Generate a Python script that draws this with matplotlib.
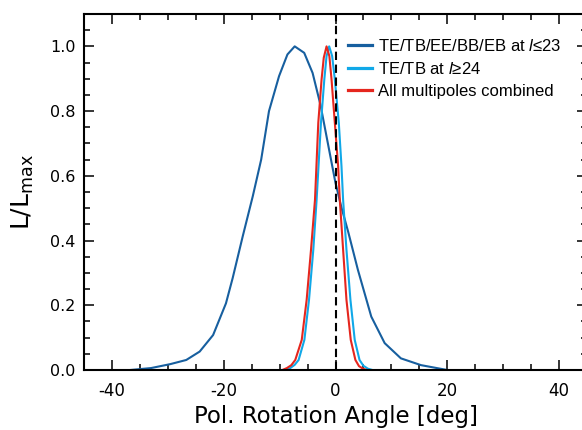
import matplotlib
matplotlib.use("Agg")
import matplotlib.pyplot as plt
from matplotlib.ticker import MultipleLocator, FormatStrFormatter

# low multipoles (TE/TB/EE/BB/EB, l<=23)
low_x = [-36.7, -33.0, -29.6, -26.7, -24.3, -21.9, -19.6, -18.4, -16.6, -14.8,
         -13.3, -11.9, -10.1, -8.6, -7.3, -5.6, -4.1, -2.7, 0.0, 1.1,
         2.3, 4.0, 6.4, 8.8, 11.7, 15.3, 20.0]
low_y = [0.0, 0.006, 0.018, 0.031, 0.057, 0.108, 0.206, 0.284, 0.413, 0.537,
         0.650, 0.800, 0.908, 0.975, 1.0, 0.980, 0.918, 0.820, 0.578, 0.50,
         0.425, 0.310, 0.165, 0.083, 0.036, 0.015, 0.0]

# high multipoles (TE/TB, l>=24)
high_x = [-9.0, -8.1, -7.3, -6.6, -5.57, -4.74, -3.97, -3.38, -2.6, -2.0,
          -1.6, -1.13, -0.6, -0.12, 0.59, 1.07, 1.36, 1.96, 2.67, 3.44,
          4.3, 5.0, 5.8, 6.6]
high_y = [0.0, 0.006, 0.016, 0.031, 0.093, 0.217, 0.372, 0.526, 0.764, 0.898,
          0.97, 1.0, 0.97, 0.898, 0.764, 0.63, 0.526, 0.372, 0.217, 0.093,
          0.031, 0.013, 0.004, 0.0]

# all multipoles combined
comb_x = [-9.5, -8.7, -7.9, -7.2, -6.04, -5.16, -4.38, -3.67, -3.08, -2.49,
          -2.1, -1.6, -1.1, -0.71, -0.12, 0.47, 0.77, 1.36, 1.96, 2.73,
          3.56, 4.2, 4.9, 5.6]
comb_y = [0.0, 0.006, 0.015, 0.031, 0.093, 0.217, 0.372, 0.526, 0.764, 0.898,
          0.965, 1.0, 0.97, 0.898, 0.764, 0.63, 0.526, 0.372, 0.217, 0.093,
          0.031, 0.012, 0.004, 0.0]

labels = ["TE/TB/EE/BB/EB at $l$≤23", "TE/TB at $l$≥24", "All multipoles combined"]
colors = ["#175f9f", "#10a8e8", "#e5261e"]

plt.rcParams['font.family'] = ['DejaVu Sans']
plt.rcParams['axes.unicode_minus'] = False
plt.rcParams['mathtext.fontset'] = 'custom'
plt.rcParams['mathtext.it'] = 'Liberation Sans:italic'
plt.rcParams['mathtext.rm'] = 'DejaVu Sans'

fig = plt.figure(figsize=(5.82, 4.30), dpi=100)
# axes spans x 84..587 px, y 14..370 px (right edge slightly past the figure)
ax = fig.add_axes([84 / 582, 60 / 430, 503 / 582, 356 / 430])

ax.plot(low_x, low_y, color=colors[0], lw=1.5, label=labels[0])
ax.plot(high_x, high_y, color=colors[1], lw=1.5, label=labels[1])
ax.plot(comb_x, comb_y, color=colors[2], lw=1.5, label=labels[2])
ax.axvline(0, color="black", lw=1.5, ls=(0, (4, 2.2)))

ax.set_xlim(-45, 45)
ax.set_ylim(0, 1.1)
ax.xaxis.set_major_locator(MultipleLocator(20))
ax.xaxis.set_minor_locator(MultipleLocator(5))
ax.yaxis.set_major_locator(MultipleLocator(0.2))
ax.yaxis.set_minor_locator(MultipleLocator(0.05))
ax.yaxis.set_major_formatter(FormatStrFormatter("%.1f"))
ax.tick_params(which="both", direction="in", top=True, right=True, width=1.1)
ax.tick_params(which="major", length=7)
ax.tick_params(which="minor", length=4.3)
ax.tick_params(axis="x", labelsize=12, pad=9)
ax.tick_params(axis="y", labelsize=11.5, pad=6)
for s in ax.spines.values():
    s.set_linewidth(1.5)

ax.set_xlabel("Pol. Rotation Angle [deg]", fontsize=16.5, labelpad=3)
ax.set_ylabel("L/L$_{\\rm max}$", fontsize=18, labelpad=10)

leg = ax.legend(loc="upper left", bbox_to_anchor=(348 / 582, 1 - 38 / 430),
                bbox_transform=fig.transFigure, frameon=False,
                prop={"family": "Liberation Sans", "size": 12},
                borderpad=0, borderaxespad=0, handlelength=1.45,
                handletextpad=0.37, labelspacing=0.42)
for line in leg.get_lines():
    line.set_linewidth(2.3)

fig.savefig("out.png", dpi=100)
